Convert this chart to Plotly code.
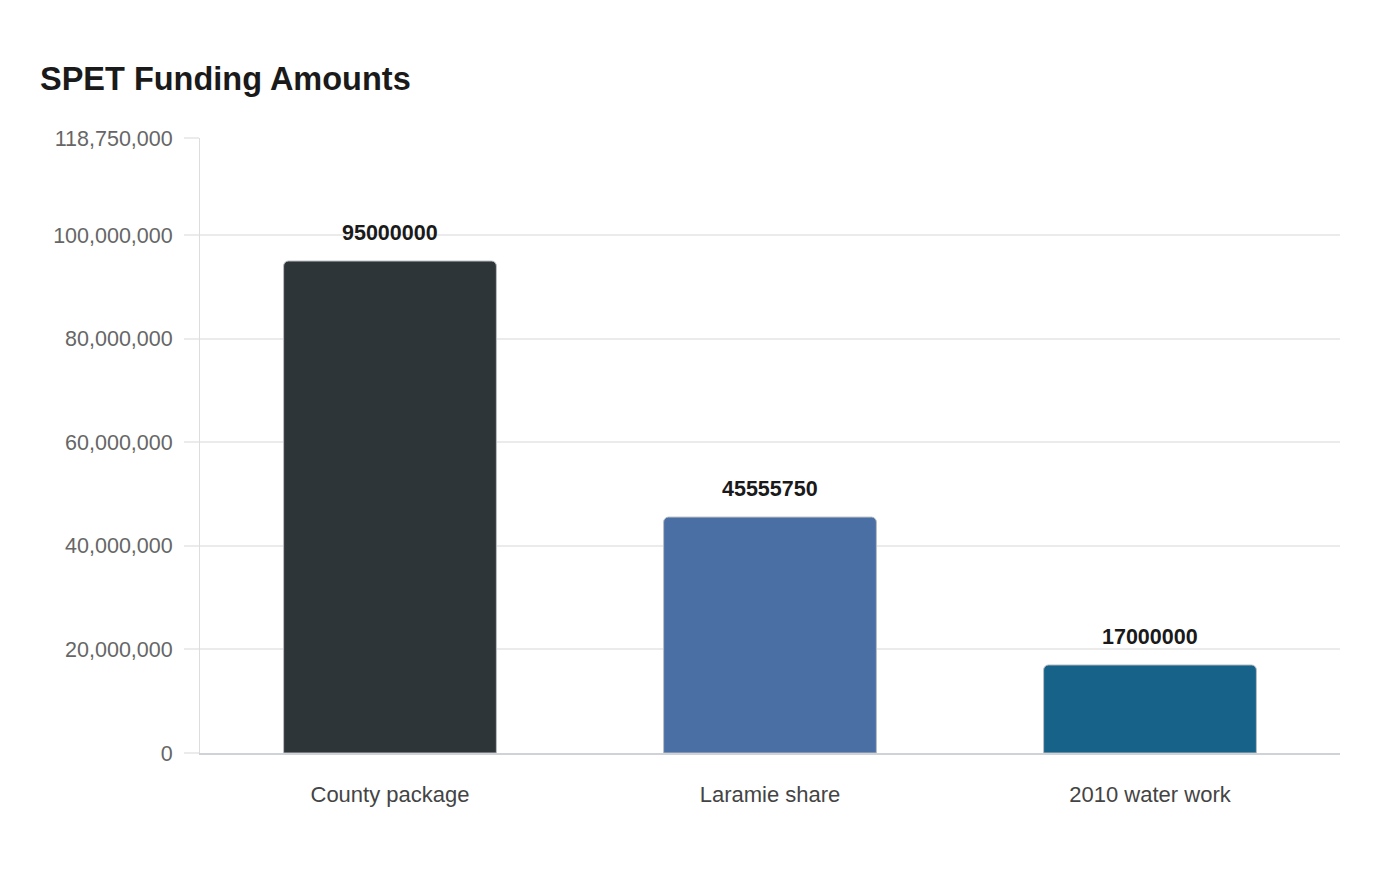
import plotly.graph_objects as go

categories = ["County package", "Laramie share", "2010 water work"]
values = [95000000, 45555750, 17000000]
colors = ["#2e3538", "#4a6fa5", "#176289"]
tick_vals = [0, 20000000, 40000000, 60000000, 80000000, 100000000, 118750000]
tick_text = ["0", "20,000,000", "40,000,000", "60,000,000", "80,000,000", "100,000,000", "118,750,000"]

FONT = "Liberation Sans, Arial, sans-serif"

fig = go.Figure(
    go.Bar(
        x=categories,
        y=values,
        marker=dict(color=colors, line=dict(color="#b8bec4", width=1), cornerradius=5),
        hoverinfo="x+y",
    )
)

for c, v in zip(categories, values):
    fig.add_annotation(
        x=c, y=v, text=f"<b>{v}</b>", showarrow=False,
        yanchor="bottom", yshift=14,
        font=dict(family=FONT, size=21.5, color="#1a1a1a"),
    )

fig.update_layout(
    width=1400, height=880,
    paper_bgcolor="white", plot_bgcolor="white",
    margin=dict(l=192, r=68, t=130, b=135),
    bargap=0.44,
    showlegend=False,
    title=dict(
        text="<b>SPET Funding Amounts</b>",
        x=32 / 1400, xanchor="left",
        y=1 - 71 / 880, yanchor="middle",
        font=dict(family=FONT, size=32.5, color="#1a1a1a"),
    ),
    font=dict(family=FONT),
)

fig.update_yaxes(
    range=[0, 118750000],
    tickvals=tick_vals, ticktext=tick_text,
    showgrid=True, gridcolor="#ebebeb", gridwidth=1.5,
    ticks="outside", ticklen=15, tickcolor="#ebebeb", tickwidth=1.5,
    showline=True, linecolor="#dddddd", linewidth=1,
    zeroline=False,
    tickfont=dict(family=FONT, size=21.5, color="#666666"),
    ticklabelstandoff=7,
)
fig.update_xaxes(
    showline=True, linecolor="#cfd3d8", linewidth=2,
    ticks="", showgrid=False,
    tickfont=dict(family=FONT, size=22, color="#444444"),
    ticklabelstandoff=21,
)

fig.write_html("out.html")
